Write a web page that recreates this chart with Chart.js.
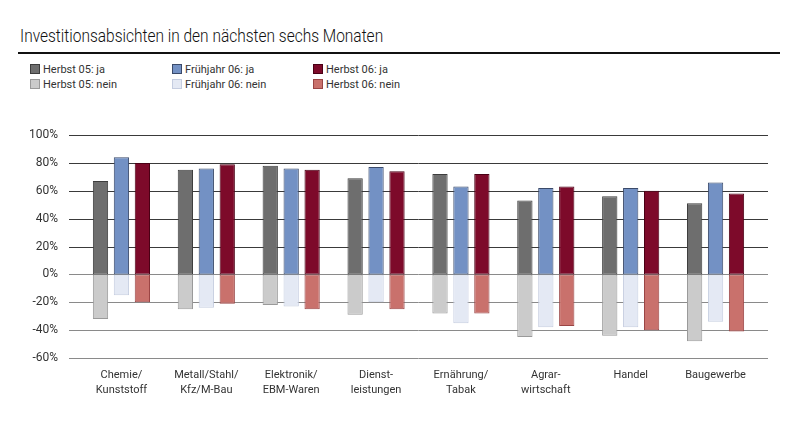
<!DOCTYPE html>
<html>
<head>
<meta charset="utf-8">
<script src="https://cdn.jsdelivr.net/npm/chart.js@4/dist/chart.umd.min.js"></script>
<style>
  body { margin: 0; background: #fff; }
  #wrap { position: relative; width: 800px; height: 425px; font-family: 'Roboto', sans-serif; color: #222; }
  #title { position: absolute; left: 20px; top: 25px; font-family: 'Roboto', sans-serif; font-weight: 300; font-size: 18px; white-space: nowrap; transform-origin: left top; transform: scaleX(0.86); color: #111; }
  #rule { position: absolute; left: 18px; top: 52px; width: 762px; height: 0; border-top: 2px solid #111; }
  .lg { position: absolute; font-size: 11px; white-space: nowrap; line-height: 14px; color: #333; }
  .lg i { display: inline-block; width: 8px; height: 8px; margin-right: 3px; vertical-align: -1px; border: 1px solid #444; }
  canvas { position: absolute; left: 0; top: 0; }
</style>
</head>
<body>
<div id="wrap">
  <div id="title">Investitionsabsichten in den nächsten sechs Monaten</div>
  <div id="rule"></div>
  <div id="legend"></div>
  <canvas id="chart" width="800" height="425"></canvas>
</div>
<script>
var categories = [
    ['Chemie/', 'Kunststoff'],
    ['Metall/Stahl/', 'Kfz/M-Bau'],
    ['Elektronik/', 'EBM-Waren'],
    ['Dienst-', 'leistungen'],
    ['Ernährung/', 'Tabak'],
    ['Agrar-', 'wirtschaft'],
    ['Handel'],
    ['Baugewerbe']
];
var herbst05Ja = [67, 75, 78, 69, 72, 53, 56, 51];
var fruehjahr06Ja = [84, 76, 76, 77, 63, 62, 62, 66];
var herbst06Ja = [80, 79, 75, 74, 72, 63, 60, 58];
var herbst05Nein = [-32, -25, -22, -29, -28, -45, -44, -48];
var fruehjahr06Nein = [-15, -24, -23, -20, -35, -38, -38, -34];
var herbst06Nein = [-20, -21, -25, -25, -28, -37, -40, -41];
var yTicks = [-60, -40, -20, 0, 20, 40, 60, 80, 100];

var series = [
    { label: 'Herbst 05: ja', data: herbst05Ja, stack: 'h05', fill: '#6e6e6e', line: '#3d3d3d', col: 0, row: 0 },
    { label: 'Frühjahr 06: ja', data: fruehjahr06Ja, stack: 'f06', fill: '#7391c4', line: '#3a4a6a', col: 1, row: 0 },
    { label: 'Herbst 06: ja', data: herbst06Ja, stack: 'h06', fill: '#7d0a2a', line: '#4a0015', col: 2, row: 0 },
    { label: 'Herbst 05: nein', data: herbst05Nein, stack: 'h05', fill: '#cbcbcb', line: '#9a9a9a', col: 0, row: 1 },
    { label: 'Frühjahr 06: nein', data: fruehjahr06Nein, stack: 'f06', fill: '#e4e9f4', line: '#c5cde0', col: 1, row: 1 },
    { label: 'Herbst 06: nein', data: herbst06Nein, stack: 'h06', fill: '#c9716c', line: '#9a4545', col: 2, row: 1 }
];

// legend as html, three columns
var legendX = [30, 172, 313];
var legendHtml = '';
series.forEach(function (s) {
    legendHtml += '<div class="lg" style="left:' + legendX[s.col] + 'px;top:' + (63 + s.row * 15) + 'px">' +
        '<i style="background:' + s.fill + ';border-color:' + s.line + '"></i>' + s.label + '</div>';
});
document.getElementById('legend').innerHTML = legendHtml;

// gridlines reach a bit past the bar area, like the original
var wideGrid = {
    id: 'wideGrid',
    beforeDatasetsDraw: function (chart) {
        var ctx = chart.ctx;
        var y = chart.scales.y;
        ctx.save();
        ctx.lineWidth = 1;
        yTicks.forEach(function (v) {
            var py = Math.round(y.getPixelForValue(v)) + 0.5;
            ctx.strokeStyle = v > 0 ? '#3a3a3a' : '#8a8a8a';
            ctx.beginPath();
            ctx.moveTo(69, py);
            ctx.lineTo(768, py);
            ctx.stroke();
        });
        ctx.restore();
    }
};

var context = document.getElementById('chart').getContext('2d');
var myChart = new Chart(context, {
    type: 'bar',
    data: {
        labels: categories,
        datasets: series.map(function (s) {
            return {
                label: s.label,
                data: s.data,
                stack: s.stack,
                backgroundColor: s.fill,
                borderColor: s.line,
                borderWidth: 1,
                borderSkipped: false,
                categoryPercentage: 0.74,
                barPercentage: 0.73
            };
        })
    },
    options: {
        responsive: false,
        animation: false,
        layout: { padding: { top: 135, right: 42, left: 0, bottom: 0 } },
        plugins: {
            legend: { display: false },
            title: { display: false },
            tooltip: { enabled: false }
        },
        scales: {
            x: {
                stacked: true,
                grid: { display: false, drawTicks: false },
                border: { display: false },
                ticks: {
                    color: '#333',
                    padding: 10,
                    maxRotation: 0,
                    autoSkip: false,
                    font: { family: "'Roboto', sans-serif", size: 11, lineHeight: 1.35 }
                },
                afterFit: function (scale) { scale.height = 67; }
            },
            y: {
                stacked: true,
                min: -60,
                max: 100,
                grid: { display: false, drawTicks: false },
                border: { display: false },
                ticks: {
                    stepSize: 20,
                    color: '#333',
                    padding: 21,
                    font: { family: "'Roboto', sans-serif", size: 12 },
                    callback: function (v) { return v + '%'; }
                },
                afterFit: function (scale) { scale.width = 79; }
            }
        }
    },
    plugins: [wideGrid]
});
</script>
</body>
</html>
